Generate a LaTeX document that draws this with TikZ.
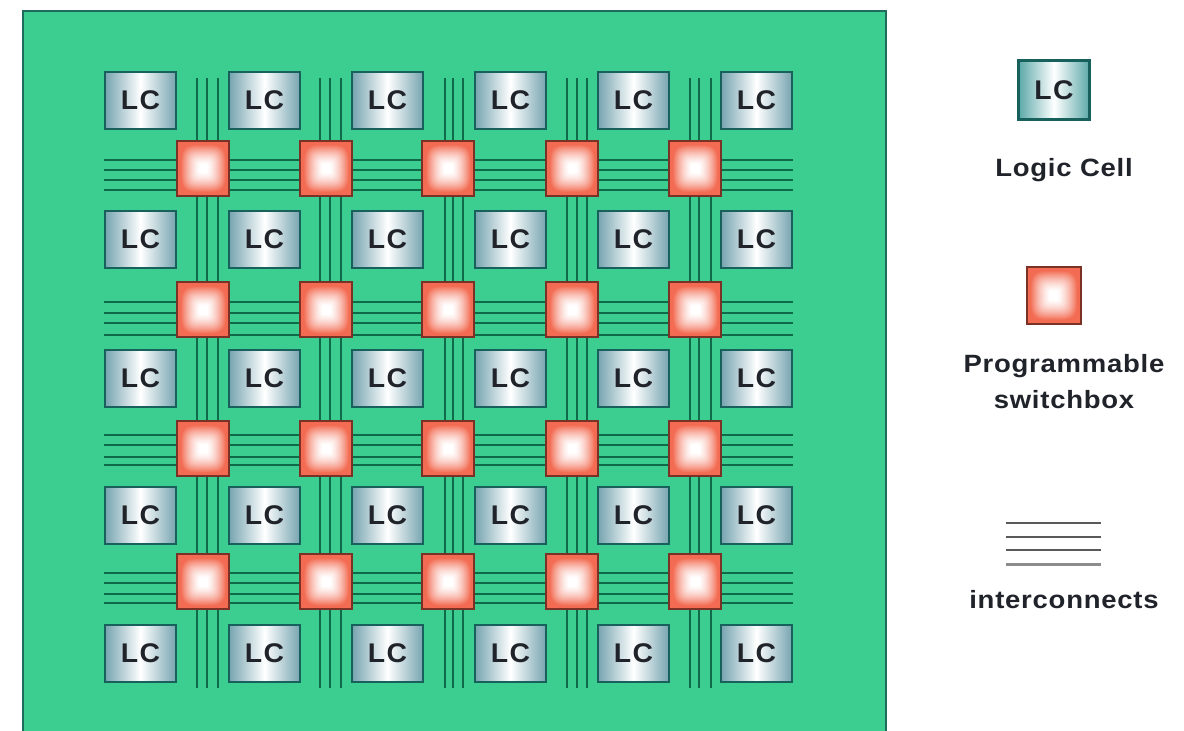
\documentclass[tikz,border=0pt]{standalone}
\usepackage{fontspec}
\setmainfont{Liberation Sans}[FakeStretch=1.1,LetterSpace=3]
\newfontfamily\cellfont{Liberation Sans}[FakeStretch=1.05,LetterSpace=6]
\pgfdeclarefunctionalshading{boxglow}{\pgfpoint{-50bp}{-50bp}}{\pgfpoint{50bp}{50bp}}{}{
  dup mul dup mul exch dup mul dup mul add sqrt sqrt 25 div
  0.15 sub dup 0 lt {pop 0} if 0.72 div dup 1 gt {pop 1} if
  dup dup mul add 2 div
  dup 0.05 mul 1 exch sub exch
  dup 0.58 mul 1 exch sub exch
  0.68 mul 1 exch sub
}
\definecolor{boardgreen}{HTML}{3CCE91}
\definecolor{boardedge}{HTML}{1F6B5C}
\definecolor{wiregreen}{HTML}{0E6A48}
\definecolor{celledge}{HTML}{17605C}
\definecolor{cellside}{HTML}{76A4B0}
\definecolor{legendside}{HTML}{5CA8A8}
\definecolor{swedge}{HTML}{7A3226}
\definecolor{inktext}{HTML}{20242A}
\tikzset{
  wire/.style={draw=wiregreen,line width=2.7pt},
  cellbox/.style={draw=celledge,line width=2.6pt,minimum width=71pt,minimum height=57pt,inner sep=0pt,
    left color=cellside,right color=cellside,middle color=white,
    font=\cellfont\bfseries\fontsize{27}{27}\selectfont,text=inktext},
  swbox/.style={draw=swedge,line width=2pt,minimum width=52pt,minimum height=55pt,inner sep=0pt,shading=boxglow},
  legendtext/.style={font=\bfseries\fontsize{25}{36}\selectfont,text=inktext,align=center,inner sep=0pt},
  legendwire/.style={draw=black!65,line width=2pt}
}
\begin{document}
\begin{tikzpicture}[x=1pt,y=-1pt]
\useasboundingbox (0,0) rectangle (1184,731);
\fill[white] (0,0) rectangle (1184,731);
\fill[boardgreen] (23,11) rectangle (886,731);
\draw[boardedge,line width=1.8pt] (23,731) -- (23,11) -- (886,11) -- (886,731);
% interconnect end points
\foreach \n/\a/\b/\c in {1/197/207/218,2/320/330/341,3/445/453/463,4/567/577/587,5/690/699/711}{
  \foreach \k/\xx in {1/\a,2/\b,3/\c}{
    \coordinate (vt\n\k) at (\xx,78);
    \coordinate (vb\n\k) at (\xx,688);
    \draw[wire] (vt\n\k) -- (vb\n\k);
  }
}
\foreach \n/\a/\b/\c/\d in {1/160/170/180/190,2/302/313/323/335,3/435/445/457/465,4/573/583/594/603}{
  \foreach \k/\yy in {1/\a,2/\b,3/\c,4/\d}{
    \coordinate (hl\n\k) at (104,\yy);
    \coordinate (hr\n\k) at (793,\yy);
    \draw[wire] (hl\n\k) -- (hr\n\k);
  }
}
% logic cells
\foreach \c/\x in {1/140.5,2/264.5,3/387.5,4/510.5,5/633.5,6/756.5}{
  \foreach \r/\y in {1/100.5,2/239.5,3/378.5,4/515.5,5/653.5}{
    \node[cellbox] (lc\r\c) at (\x,\y) {LC};
  }
}
% switchboxes
\foreach \c/\x in {1/203,2/326,3/448,4/572,5/695}{
  \foreach \r/\y in {1/168,2/309.5,3/448.5,4/581.5}{
    \node[swbox] (sw\r\c) at (\x,\y) {};
  }
}
% legend
\node[cellbox,left color=legendside,right color=legendside,middle color=white,minimum width=71pt,minimum height=59pt] (legcell) at (1054,90) {LC};
\node[legendtext] (legcelltext) at (1064,170) {Logic Cell};
\node[swbox,minimum width=54pt,minimum height=57pt] (legsw) at (1053.5,295) {};
\node[legendtext] (legswtext) at (1064,382) {Programmable\\switchbox};
\foreach \k/\y in {1/523,2/537,3/550}{
  \coordinate (ll\k) at (1006,\y);
  \coordinate (lr\k) at (1101,\y);
  \draw[legendwire] (ll\k) -- (lr\k);
}
\coordinate (ll4) at (1006,564);
\coordinate (lr4) at (1101,564);
\draw[legendwire,draw=black!45,line width=3pt] (ll4) -- (lr4);
\node[legendtext] (legwiretext) at (1064,600) {interconnects};
\end{tikzpicture}
\end{document}
